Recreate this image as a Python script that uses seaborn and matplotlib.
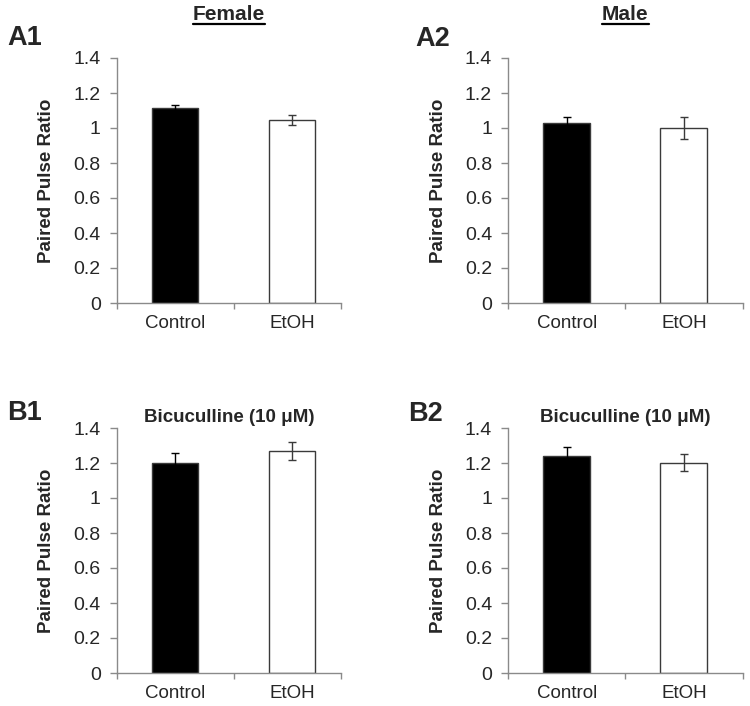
import matplotlib
matplotlib.use("Agg")
import matplotlib.pyplot as plt
import seaborn as sns
import pandas as pd

sns.set_theme(style="white")
plt.rcParams['font.family'] = ['Liberation Sans', 'DejaVu Sans']

groups = ["Control", "EtOH"]
panels = ["A1", "A2", "B1", "B2"]
titles = ["Female", "Male", "Bicuculline (10 \u03bcM)", "Bicuculline (10 \u03bcM)"]
means = {
    "A1": [1.113, 1.047],
    "A2": [1.031, 1.000],
    "B1": [1.200, 1.268],
    "B2": [1.242, 1.202],
}
sems = {
    "A1": [0.020, 0.028],
    "A2": [0.030, 0.065],
    "B1": [0.055, 0.052],
    "B2": [0.050, 0.050],
}
yticks = [0, 0.2, 0.4, 0.6, 0.8, 1.0, 1.2, 1.4]
ytick_labels = ["0", "0.2", "0.4", "0.6", "0.8", "1", "1.2", "1.4"]
bar_colors = ["#000000", "#ffffff"]
err_colors = ["#000000", "#3a3a3a"]

W, H = 750, 706
fig = plt.figure(figsize=(W / 100, H / 100), dpi=100)

# axes positions in pixels: (left, top, width, height), and right x limit
boxes = {
    "A1": (116.7, 58, 224.3, 245),
    "A2": (508, 58, 234.5, 245),
    "B1": (116.7, 428, 224.3, 245),
    "B2": (508, 428, 234.5, 245),
}
xmax = {"A1": 1.42, "A2": 1.5, "B1": 1.42, "B2": 1.5}
label_pos = {"A1": (7, 38), "A2": (415, 38.5), "B1": (7, 413), "B2": (408, 414)}

axis_gray = "#8a8a8a"
edge = "#3a3a3a"
for p, t in zip(panels, titles):
    l, tp, w, h = boxes[p]
    ax = fig.add_axes([l / W, 1 - (tp + h) / H, w / W, h / H])
    df = pd.DataFrame({"group": groups, "value": means[p]})
    sns.barplot(data=df, x="group", y="value", hue="group", palette=bar_colors,
                width=0.40, edgecolor=edge, linewidth=1.0, errorbar=None,
                legend=False, ax=ax)
    for i in range(len(groups)):
        ax.errorbar([i], [means[p][i]], yerr=[sems[p][i]], fmt="none",
                    ecolor=err_colors[i], elinewidth=1.0, capsize=3, capthick=1.0)
    ax.set_xlim(-0.5, xmax[p])
    ax.set_ylim(0, 1.4)
    ax.set_yticks(yticks)
    ax.set_yticklabels(ytick_labels, fontsize=14)
    ax.set_xticks([0, 1])
    ax.set_xticklabels(groups, fontsize=13.5)
    ax.set_xticks([-0.5, 0.5, xmax[p]], minor=True)
    ax.tick_params(axis="x", which="major", length=0, pad=9)
    ax.tick_params(axis="x", which="minor", length=4.5, width=1, color=axis_gray,
                   direction="out", bottom=True)
    ax.tick_params(axis="y", length=5, width=1, color=axis_gray, direction="out",
                   left=True, pad=6.5)
    for s in ["top", "right"]:
        ax.spines[s].set_visible(False)
    for s in ["left", "bottom"]:
        ax.spines[s].set_color(axis_gray)
        ax.spines[s].set_linewidth(1)
    ax.set_xlabel("")
    ax.set_ylabel("Paired Pulse Ratio", fontsize=13.5, fontweight="bold", labelpad=13)
    ax.grid(False)
    if p.startswith("A"):
        cx = (l + w / 2) / W
        ttl = fig.text(cx, 1 - 15 / H, t, ha="center", va="center", fontsize=15,
                       fontweight="bold")
        fig.canvas.draw()
        bb = ttl.get_window_extent()
        fig.add_artist(plt.Line2D([bb.x0 / W, bb.x1 / W],
                                  [1 - 23.5 / H, 1 - 23.5 / H], color="black", lw=1.6))
    else:
        fig.text((l + w / 2) / W, 1 - 417 / H, t, ha="center", va="center",
                 fontsize=13.5, fontweight="bold")
    lx, ly = label_pos[p]
    fig.text(lx / W, 1 - ly / H, p, ha="left", va="center", fontsize=19.5,
             fontweight="bold")

fig.savefig("out.png", dpi=100, facecolor="white")
